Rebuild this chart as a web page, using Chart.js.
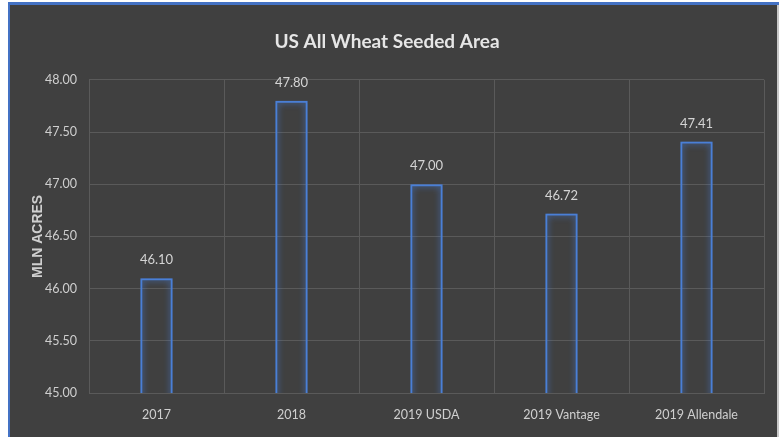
<!DOCTYPE html>
<html>
<head>
<meta charset="utf-8">
<script src="https://cdn.jsdelivr.net/npm/chart.js@4"></script>
<style>
  html, body { margin: 0; padding: 0; background: #ffffff; }
  #wrap { position: absolute; left: 0; top: 0; width: 779px; height: 437px; }
</style>
</head>
<body>
<div id="wrap"><canvas id="chart" width="779" height="437"></canvas></div>
<script>
const categories = ['2017', '2018', '2019 USDA', '2019 Vantage', '2019 Allendale'];
const acres = [46.10, 47.80, 47.00, 46.72, 47.41];
const yMin = 45.0;
const yMax = 48.0;
const yStep = 0.5;

const FONT = 'Lato, "Open Sans", sans-serif';
const BLUE = '#4a7fd6';

// dark panel with the thin blue frame on top / left
const framePlugin = {
  id: 'frame',
  beforeDraw(chart) {
    const ctx = chart.ctx;
    ctx.save();
    ctx.fillStyle = '#ffffff';
    ctx.fillRect(0, 0, chart.width, chart.height);
    ctx.fillStyle = '#404040';
    ctx.fillRect(10, 5, chart.width - 12, chart.height - 5);
    ctx.fillStyle = '#4472c4';
    ctx.fillRect(8, 2, chart.width - 8, 3);
    ctx.fillRect(8, 2, 2, chart.height - 2);
    ctx.fillStyle = '#c8c8c8';
    ctx.fillRect(chart.width - 2, 5, 2, chart.height - 5);
    ctx.restore();
  }
};

// soft blue glow on the bar outlines, then the value labels
const glowPlugin = {
  id: 'glow',
  beforeDatasetsDraw(chart) {
    chart.ctx.save();
    chart.ctx.shadowColor = 'rgba(70,130,230,0.9)';
    chart.ctx.shadowBlur = 6;
  },
  afterDatasetsDraw(chart) {
    chart.ctx.restore();
    const ctx = chart.ctx;
    const meta = chart.getDatasetMeta(0);
    ctx.save();
    ctx.font = '13px ' + FONT;
    ctx.fillStyle = '#d4d4d4';
    ctx.textAlign = 'center';
    ctx.textBaseline = 'middle';
    meta.data.forEach((bar, i) => {
      ctx.fillText(acres[i].toFixed(2), bar.x, bar.y - 18);
    });
    ctx.restore();
  }
};

new Chart(document.getElementById('chart'), {
  type: 'bar',
  data: {
    labels: categories,
    datasets: [{
      data: acres,
      backgroundColor: 'rgba(0,0,0,0)',
      borderColor: BLUE,
      borderWidth: 2,
      borderSkipped: false,
      barPercentage: 0.24,
      categoryPercentage: 1.0
    }]
  },
  options: {
    responsive: false,
    animation: false,
    layout: { padding: { left: 10, right: 15, top: 5, bottom: 0 } },
    plugins: {
      legend: { display: false },
      tooltip: { enabled: false },
      title: {
        display: true,
        text: 'US All Wheat Seeded Area',
        color: '#e6e6e6',
        font: { family: FONT, size: 19, weight: 'bold' },
        padding: { top: 25, bottom: 27 }
      }
    },
    scales: {
      x: {
        grid: { color: '#5a5a5a', lineWidth: 1, drawTicks: false },
        border: { color: '#5a5a5a' },
        ticks: { color: '#cfcfcf', font: { family: FONT, size: 12.5 }, padding: 14 },
        afterFit(scale) { scale.height = 44; }
      },
      y: {
        min: yMin,
        max: yMax,
        grid: { color: '#5a5a5a', lineWidth: 1, drawTicks: false },
        border: { color: '#5a5a5a' },
        ticks: {
          stepSize: yStep,
          color: '#cfcfcf',
          font: { family: FONT, size: 12.5 },
          padding: 12,
          callback: v => Number(v).toFixed(2)
        },
        title: {
          display: true,
          text: 'MLN ACRES',
          color: '#cfcfcf',
          font: { family: 'Liberation Sans, Arial, sans-serif', size: 14, weight: 'bold' },
          padding: { top: 20, bottom: 0 }
        },
        afterFit(scale) { scale.width = 79; }
      }
    }
  },
  plugins: [framePlugin, glowPlugin]
});
</script>
</body>
</html>
